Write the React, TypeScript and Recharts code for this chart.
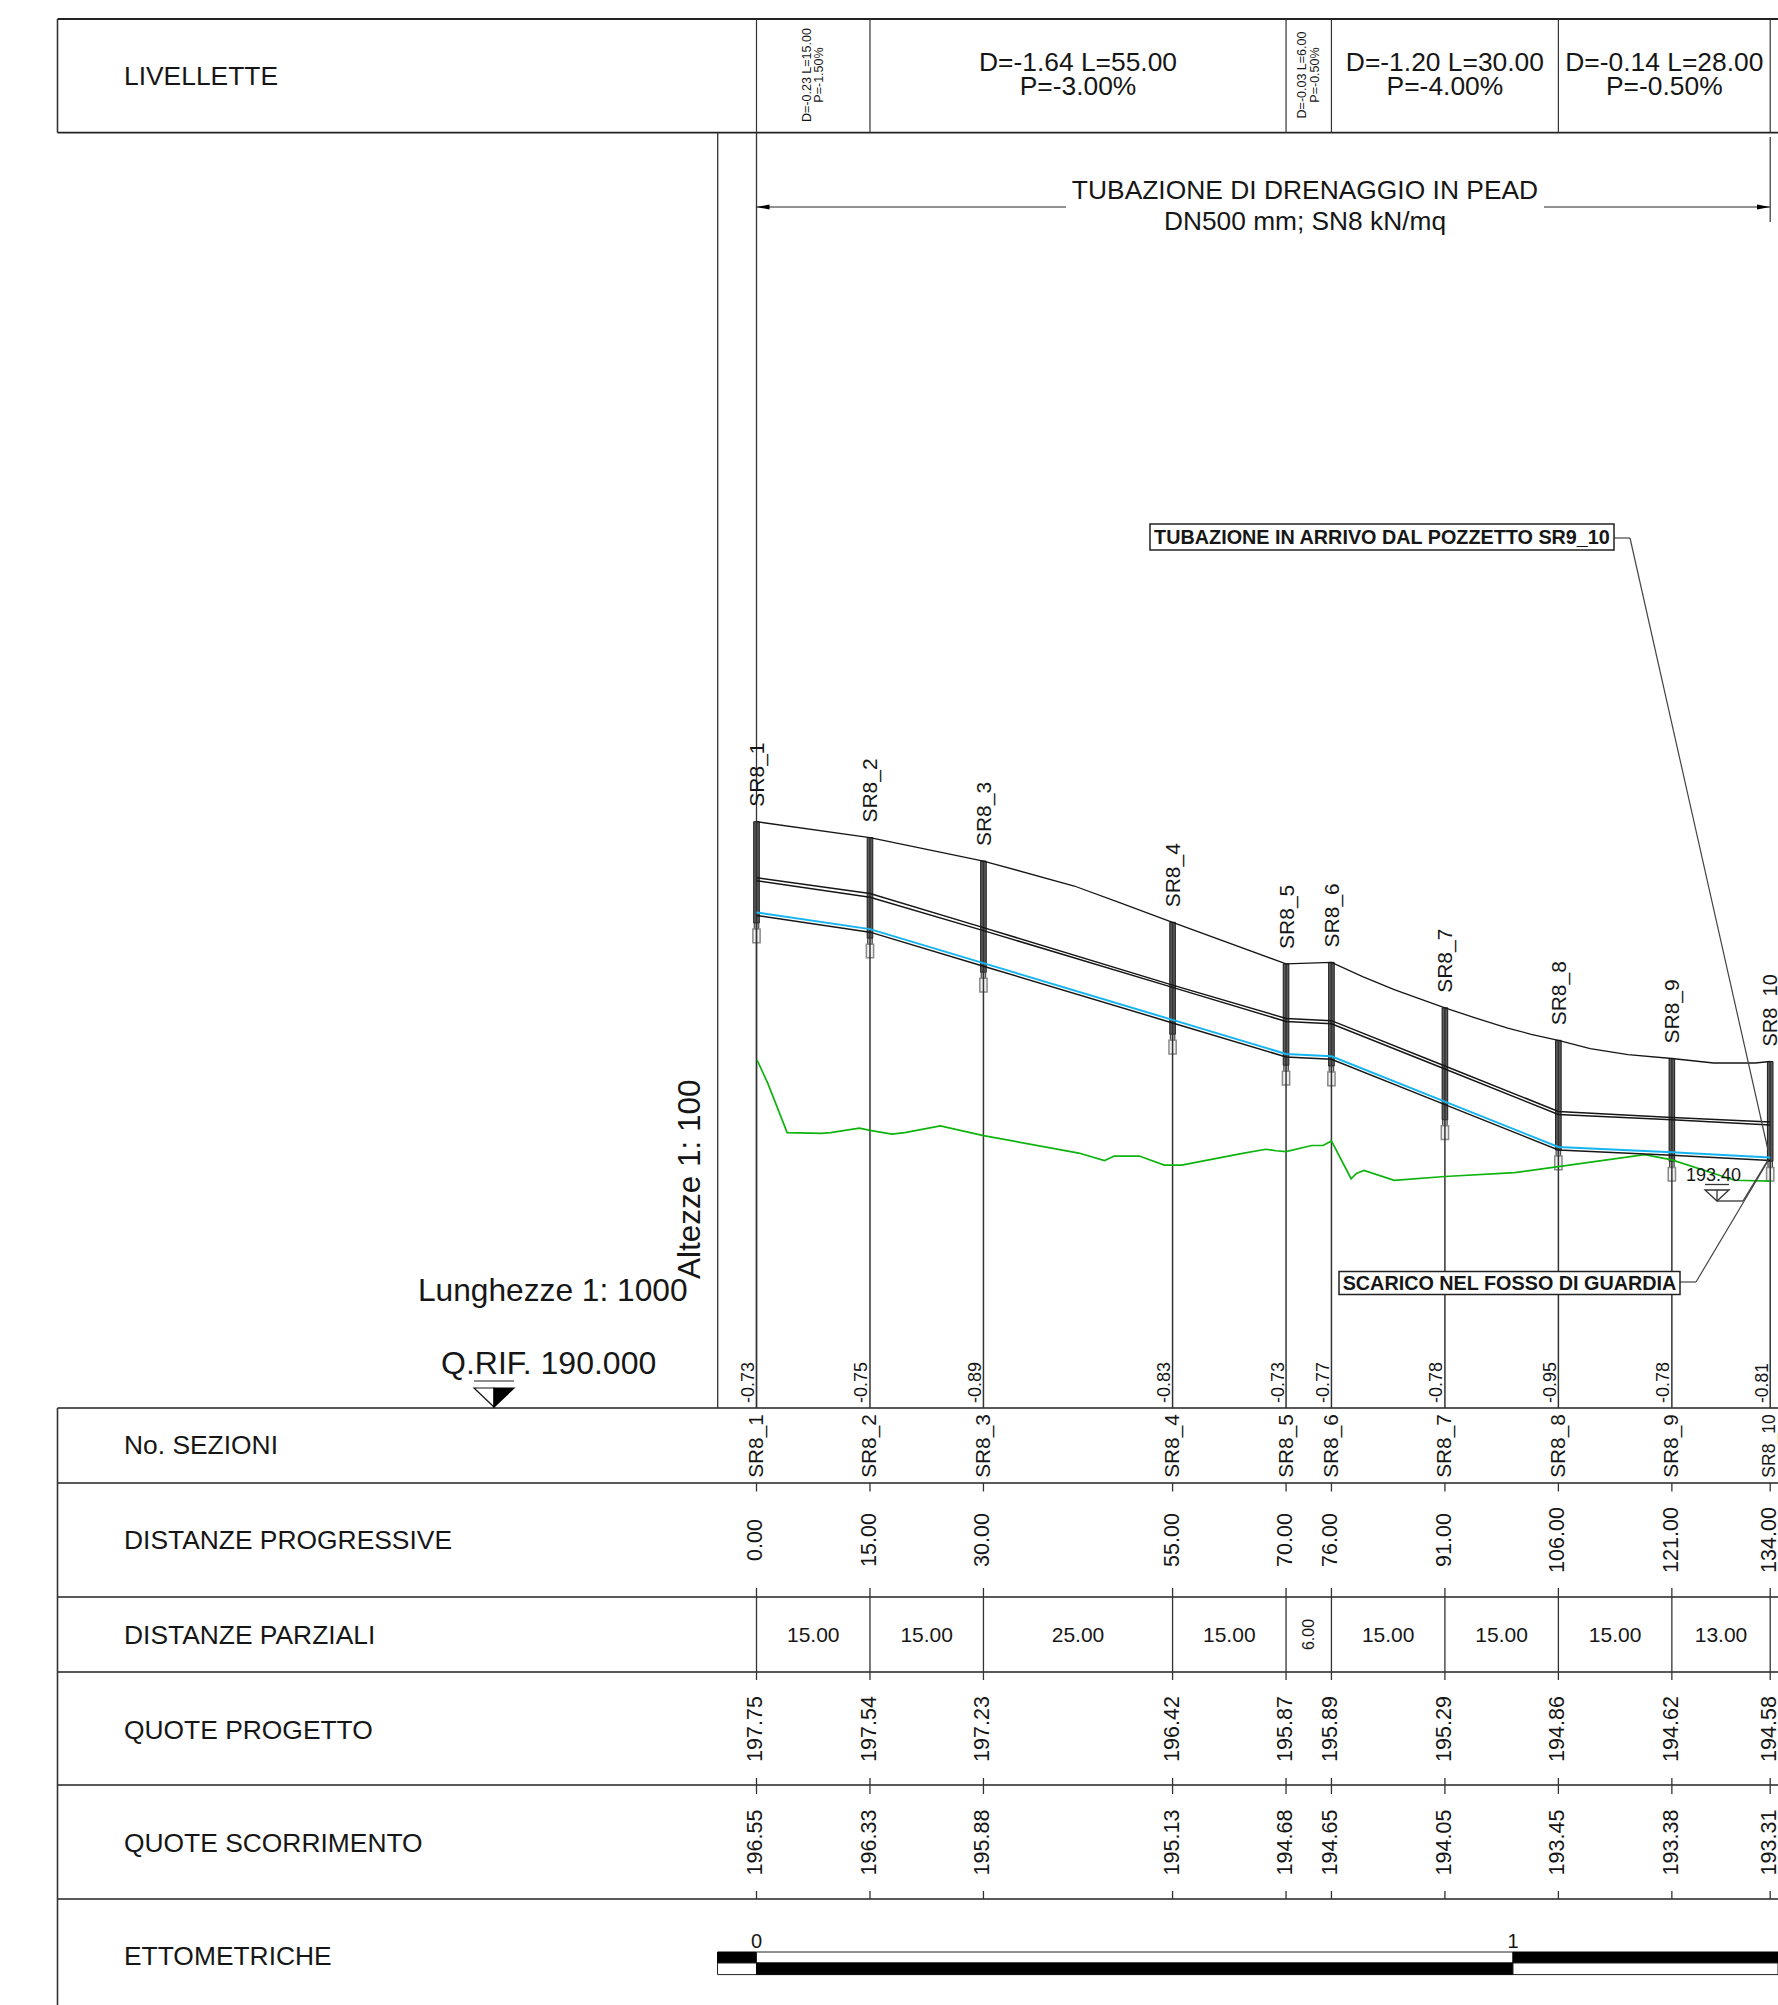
import React from "react";
import { ComposedChart, Line, Scatter, XAxis, YAxis, ReferenceLine, ReferenceArea } from "recharts";

// ---- data ----
const sectionNames = ["SR8_1", "SR8_2", "SR8_3", "SR8_4", "SR8_5", "SR8_6", "SR8_7", "SR8_8", "SR8_9", "SR8_10"];
const progressive = [0, 15, 30, 55, 70, 76, 91, 106, 121, 134];
const progressiveLabels = ["0.00", "15.00", "30.00", "55.00", "70.00", "76.00", "91.00", "106.00", "121.00", "134.00"];
const partialLabels = ["15.00", "15.00", "25.00", "15.00", "6.00", "15.00", "15.00", "15.00", "13.00"];
const projectLevels = [197.75, 197.54, 197.23, 196.42, 195.87, 195.89, 195.29, 194.86, 194.62, 194.58];
const invertLevels = [196.55, 196.33, 195.88, 195.13, 194.68, 194.65, 194.05, 193.45, 193.38, 193.31];
const depthLabels = ["-0.73", "-0.75", "-0.89", "-0.83", "-0.73", "-0.77", "-0.78", "-0.95", "-0.78", "-0.81"];
const crownOuter = [197.01, 196.80, 196.35, 195.59, 195.15, 195.12, 194.52, 193.92, 193.84, 193.78];
const crownInner = [196.97, 196.75, 196.31, 195.56, 195.11, 195.08, 194.48, 193.88, 193.81, 193.74];
const wallLower = [196.51, 196.29, 195.84, 195.09, 194.64, 194.61, 194.01, 193.41, 193.34, 193.27];
const wellBottom = [196.41, 196.21, 195.76, 194.94, 194.53, 194.52, 193.81, 193.41, 193.26, 193.26];
const groundX = [0, 15, 30, 42, 48, 55, 70, 76, 80.2, 84.3, 91, 95.2, 99.3, 102.4, 106, 110.2, 115.2, 121, 126.5, 132, 134];
const groundZ = [197.75, 197.54, 197.23, 196.90, 196.68, 196.42, 195.87, 195.89, 195.70, 195.53, 195.29, 195.15, 195.02, 194.94, 194.86, 194.75, 194.67, 194.62, 194.56, 194.56, 194.58];
const terrainX = [0.08, 1.5, 4.05, 8.6, 9.8, 13.6, 15, 17.9, 19.6, 24.3, 30, 42.6, 46, 47.3, 50.6, 53.9, 56.2, 63.9, 67.3, 68.7, 70, 73.4, 74.9, 76, 78.6, 79.3, 80.3, 84.3, 91, 100.2, 106, 117.4, 121, 129.3, 134];
const terrainZ = [194.6, 194.29, 193.64, 193.63, 193.64, 193.7, 193.67, 193.62, 193.64, 193.73, 193.6, 193.37, 193.27, 193.33, 193.33, 193.21, 193.21, 193.36, 193.42, 193.4, 193.39, 193.47, 193.47, 193.53, 193.03, 193.1, 193.14, 193.01, 193.06, 193.11, 193.19, 193.35, 193.28, 193.01, 193.0];
const gradeBreaks = [0, 15, 70, 76, 106, 134];
const gradeLines = [
  ["D=-0.23 L=15.00", "P=-1.50%"],
  ["D=-1.64 L=55.00", "P=-3.00%"],
  ["D=-0.03 L=6.00", "P=-0.50%"],
  ["D=-1.20 L=30.00", "P=-4.00%"],
  ["D=-0.14 L=28.00", "P=-0.50%"],
];
const rowTitles = ["No. SEZIONI", "DISTANZE PROGRESSIVE", "DISTANZE PARZIALI", "QUOTE PROGETTO", "QUOTE SCORRIMENTO", "ETTOMETRICHE"];
const hectometres = [0, 100];
const hectometreLabels = ["0", "1"];

// ---- layout of the drawing sheet (page pixels, on hidden layout axes) ----
const W = 1778;
const H = 2005;
const M = "m"; const Z = "z"; const LX = "lx"; const LY = "ly";
const rowLines = [19, 132.7, 1408, 1483, 1597, 1672, 1785, 1899];
const rowTitleY = [1445, 1540, 1634.5, 1729.5, 1843, 1955.5];
const valueRowY = { name: 1446, progressive: 1540, partial: 1634.5, project: 1729, invert: 1842.5 };
const ticks = [[1483, 1491.5], [1588, 1680], [1778, 1794], [1891, 1899]];
const ink = "#161616";
const FONT = "'Liberation Sans', Arial, sans-serif";

const zip = (xs: number[], ys: number[]) => xs.map((x, i) => ({ x, y: ys[i] }));

const TextShape = (p: any) => {
  const d = p.payload;
  const x = p.cx + (d.dx || 0);
  const y = p.cy + (d.dy || 0);
  return (
    <text
      x={x}
      y={y}
      fontFamily={FONT}
      fontSize={d.size}
      fontWeight={d.bold ? 700 : 400}
      fill={ink}
      textAnchor={d.anchor || "middle"}
      dominantBaseline={d.base || "central"}
      transform={d.rot ? `rotate(-90 ${x} ${y})` : undefined}
    >
      {d.label}
    </text>
  );
};

const BoxedShape = (p: any) => {
  const d = p.payload;
  return (
    <g>
      <rect x={p.cx - d.w / 2} y={p.cy - d.h / 2} width={d.w} height={d.h} fill="#fff" stroke="#222" strokeWidth={1.5} />
      <text x={p.cx} y={p.cy} fontFamily={FONT} fontSize={d.size} fontWeight={700} fill={ink} textAnchor="middle" dominantBaseline="central">
        {d.label}
      </text>
    </g>
  );
};

const RefMarkShape = (p: any) => {
  const { cx, cy } = p;
  return (
    <g>
      <line x1={cx - 20} x2={cx + 20} y1={cy - 26} y2={cy - 26} stroke="#666" strokeWidth={1.6} />
      <polygon points={`${cx - 20},${cy - 19} ${cx},${cy - 19} ${cx},${cy}`} fill="#fff" stroke={ink} strokeWidth={1.2} />
      <polygon points={`${cx},${cy - 19} ${cx + 20},${cy - 19} ${cx},${cy}`} fill="#000" stroke="#000" strokeWidth={1.2} />
    </g>
  );
};

const LevelMarkShape = (p: any) => {
  const { cx, cy } = p;
  return (
    <g fill="none" stroke="#333" strokeWidth={1.3}>
      <line x1={cx - 12} x2={cx + 12} y1={cy - 16.5} y2={cy - 16.5} />
      <polygon points={`${cx - 12},${cy - 11} ${cx + 12},${cy - 11} ${cx},${cy}`} />
      <line x1={cx} x2={cx} y1={cy - 11} y2={cy} />
      <line x1={cx} x2={cx + 26} y1={cy} y2={cy} />
    </g>
  );
};

const ArrowShape = (p: any) => {
  const { cx, cy } = p;
  const s = p.payload.dir;
  return <polygon points={`${cx},${cy} ${cx + s * 13},${cy - 2.6} ${cx + s * 13},${cy + 2.6}`} fill="#000" />;
};

const seg = (key: string, x1: number, y1: number, x2: number, y2: number, stroke = "#2a2a2a", w = 1.4, xa = LX, ya = LY) => (
  <ReferenceLine
    key={key}
    xAxisId={xa}
    yAxisId={ya}
    segment={[{ x: x1, y: y1 }, { x: x2, y: y2 }]}
    stroke={stroke}
    strokeWidth={w}
  />
);

const area = (key: string, x1: number, x2: number, y1: number, y2: number, fill: string, stroke = "#222", w = 1, xa = M, ya = Z) => (
  <ReferenceArea
    key={key}
    xAxisId={xa}
    yAxisId={ya}
    x1={x1}
    x2={x2}
    y1={y1}
    y2={y2}
    fill={fill}
    fillOpacity={1}
    stroke={stroke}
    strokeWidth={w}
  />
);

const texts = (key: string, data: any[], xa = LX, ya = LY, shape: any = TextShape) => (
  <Scatter key={key} xAxisId={xa} yAxisId={ya} data={data} shape={shape} isAnimationActive={false} />
);

const profile = (key: string, data: any[], stroke: string, w: number) => (
  <Line
    key={key}
    xAxisId={M}
    yAxisId={Z}
    data={data}
    dataKey="y"
    type="linear"
    stroke={stroke}
    strokeWidth={w}
    dot={false}
    activeDot={false}
    isAnimationActive={false}
    connectNulls
  />
);

const rowValues = (key: string, labels: string[], y: number, size: number) =>
  texts(
    key,
    labels.map((label, i) => ({ x: progressive[i], y, label, size: key === "names" && i === 9 ? 17.5 : size, rot: true, dx: -1 })),
    M,
    LY,
  );

export default function App() {
  const partial = partialLabels.map((label, i) => ({
    x: (progressive[i] + progressive[i + 1]) / 2,
    y: valueRowY.partial,
    label,
    size: label === "6.00" ? 16 : 21,
    rot: label === "6.00",
  }));
  const grade: any[] = [];
  gradeLines.forEach((lines, i) => {
    const x = (gradeBreaks[i] + gradeBreaks[i + 1]) / 2;
    const narrow = gradeBreaks[i + 1] - gradeBreaks[i] <= 15;
    lines.forEach((label, j) =>
      grade.push(
        narrow
          ? { x, y: 75, label, size: 12.5, rot: true, dx: j === 0 ? -6.5 : 6 }
          : { x, y: j === 0 ? 62 : 86, label, size: 26.4 },
      ),
    );
  });

  return (
    <div style={{ position: "absolute", left: 0, top: 0, width: W, height: H, overflow: "hidden", background: "#fff" }}>
      <ComposedChart width={W} height={H} margin={{ top: 0, right: 0, bottom: 0, left: 0 }} data={[]}>
        <XAxis xAxisId={M} dataKey="x" type="number" domain={[-100, 135.03]} hide allowDataOverflow />
        <YAxis yAxisId={Z} dataKey="y" type="number" domain={[182.108, 208.612]} hide allowDataOverflow />
        <XAxis xAxisId={LX} dataKey="x" type="number" domain={[0, W]} hide allowDataOverflow />
        <YAxis yAxisId={LY} dataKey="y" type="number" domain={[0, H]} reversed hide allowDataOverflow />

        {/* sheet frame */}
        {rowLines.map((y, i) => seg(`row${i}`, 57.5, y, W, y, "#222", i < 2 ? 1.8 : 1.6))}
        {seg("frameTop", 57.5, 19, 57.5, 132.7, "#333", 1.6)}
        {seg("frameBot", 57.5, 1408, 57.5, H, "#333", 1.6)}
        {seg("vAxis", 717.7, 132.7, 717.7, 1408, "#333", 1.3)}
        {gradeBreaks.map((b, i) => seg(`gb${i}`, b, 19, b, 132.7, "#333", 1.2, M, LY))}
        {seg("pipeL", 0, 132.7, 0, 1408, "#333", 1.3, M, LY)}
        {seg("pipeR", 134, 137, 134, 222, "#333", 1.2, M, LY)}
        {seg("arrowL", 756.5, 207, 1066, 207, "#222", 1.2)}
        {seg("arrowR", 1544, 207, 1770, 207, "#222", 1.2)}

        {/* stations */}
        {progressive.map((x, i) => seg(`st${i}`, x, 190, x, projectLevels[i], "#333", 1.5, M, Z))}
        {progressive.map((x) =>
          ticks.map((t, j) => seg(`tick${x}-${j}`, x, t[0], x, t[1], "#333", 1.3, M, LY)),
        )}

        {/* wells */}
        {progressive.map((x, i) => area(`well${i}`, x - 0.37, x + 0.37, wellBottom[i], projectLevels[i], "#5c5c5c", "#1c1c1c", 1))}
        {progressive.map((x, i) => area(`cap${i}`, x - 0.3, x + 0.3, wellBottom[i] - 0.08, wellBottom[i], "#bbb", "#333", 1))}
        {progressive.map((x, i) => area(`sump${i}`, x - 0.48, x + 0.48, wellBottom[i] - 0.26, wellBottom[i] - 0.08, "#f0f0f0", "#8a8a8a", 1.5))}

        {/* profiles */}
        {profile("ground", zip(groundX, groundZ), "#161616", 1.3)}
        {profile("terrain", zip(terrainX, terrainZ), "#0eb30e", 1.7)}
        {profile("crownOuter", zip(progressive, crownOuter), "#161616", 1.5)}
        {profile("crownInner", zip(progressive, crownInner), "#161616", 1.5)}
        {profile("wall", zip(progressive, wallLower), "#161616", 1.5)}
        {profile("invert", zip(progressive, invertLevels), "#16b4f0", 2)}

        {/* leaders and outfall */}
        {seg("lead1a", 1614, 538, 1630, 538, "#444", 1.2)}
        {seg("lead1b", 1630, 538, 1768, 1150, "#444", 1.2)}
        {seg("lead2a", 1680, 1282, 1696, 1282, "#444", 1.2)}
        {seg("lead2b", 1696, 1282, 1768, 1161, "#444", 1.2)}
        {seg("outfall", 1743, 1201, 1768, 1160, "#444", 1.4)}

        {/* ettometriche bar */}
        {area("barA", -5.15, 0, 1952, 1963, "#000", "#000", 1, M, LY)}
        {area("barB", -5.15, 0, 1963, 1974.6, "#fff", "#222", 1, M, LY)}
        {area("barC", 0, 100, 1952, 1963, "#fff", "#222", 1, M, LY)}
        {area("barD", 0, 100, 1963, 1974.6, "#000", "#000", 1, M, LY)}
        {area("barE", 100, 135.03, 1952, 1963, "#000", "#000", 1, M, LY)}
        {area("barF", 100, 135.03, 1963, 1974.6, "#fff", "#222", 1, M, LY)}

        {/* text */}
        {texts("titles", rowTitles.map((label, i) => ({ x: 124, y: rowTitleY[i], label, size: 26.4, anchor: "start" })))}
        {texts("livel", [{ x: 124, y: 76, label: "LIVELLETTE", size: 26.4, anchor: "start" }])}
        {texts("grade", grade, M, LY)}
        {texts("pipeTitle", [
          { x: 1305, y: 189.5, label: "TUBAZIONE DI DRENAGGIO IN PEAD", size: 26.4 },
          { x: 1305, y: 220.5, label: "DN500 mm; SN8 kN/mq", size: 26.3 },
        ])}
        {texts("arrows", [{ x: 756.5, y: 207, dir: 1 }, { x: 1770, y: 207, dir: -1 }], LX, LY, ArrowShape)}
        {texts("scales", [
          { x: 418, y: 1301, label: "Lunghezze 1: 1000", size: 31.7, anchor: "start", base: "auto" },
          { x: 441, y: 1374, label: "Q.RIF. 190.000", size: 32, anchor: "start", base: "auto" },
          { x: 700, y: 1279, label: "Altezze 1: 100", size: 31.5, anchor: "start", base: "auto", rot: true },
        ])}
        {texts("refMark", [{ x: 494, y: 1407 }], LX, LY, RefMarkShape)}
        {texts("secTop", sectionNames.map((label, i) => ({ x: progressive[i], y: projectLevels[i], dy: -15, label, size: i === 9 ? 20 : 21, anchor: "start", rot: true })), M, Z)}
        {texts("depth", depthLabels.map((label, i) => ({ x: progressive[i], y: 1403, dx: -2.5, label, size: i === 9 ? 17.5 : 18, anchor: "start", base: "auto", rot: true })), M, LY)}
        {rowValues("names", sectionNames, valueRowY.name, 20.8)}
        {rowValues("prog", progressiveLabels, valueRowY.progressive, 21.5)}
        {texts("partial", partial, M, LY)}
        {rowValues("proj", projectLevels.map((v) => v.toFixed(2)), valueRowY.project, 21.5)}
        {rowValues("inv", invertLevels.map((v) => v.toFixed(2)), valueRowY.invert, 21.5)}
        {texts("hecto", hectometres.map((x, i) => ({ x, y: 1941, label: hectometreLabels[i], size: 20 })), M, LY)}
        {texts("level", [{ x: 1713.5, y: 1175, label: "193.40", size: 18 }])}
        {texts("levelMark", [{ x: 1717, y: 1201 }], LX, LY, LevelMarkShape)}
        {texts("box1", [{ x: 1382, y: 537, w: 464, h: 26, label: "TUBAZIONE IN ARRIVO DAL POZZETTO SR9_10", size: 19.8 }], LX, LY, BoxedShape)}
        {texts("box2", [{ x: 1509.5, y: 1283, w: 341, h: 23, label: "SCARICO NEL FOSSO DI GUARDIA", size: 19.8 }], LX, LY, BoxedShape)}
      </ComposedChart>
    </div>
  );
}
